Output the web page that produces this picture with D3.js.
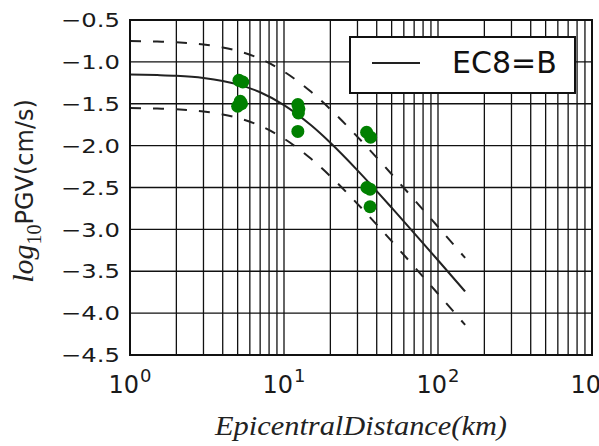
<!DOCTYPE html>
<html><head><meta charset="utf-8">
<script src="https://cdn.jsdelivr.net/npm/d3@7"></script>
<style>body{margin:0;background:#fff;overflow:hidden}</style></head>
<body>
<script>
// ---- data ----
const yTickValues = [-0.5, -1.0, -1.5, -2.0, -2.5, -3.0, -3.5, -4.0, -4.5];
const xTickExponents = [0, 1, 2, 3];
const curveDistance = [1, 1.5, 2, 3, 4, 5, 7, 10, 15, 20, 30, 40, 50, 70, 100, 150];
const curveMean  = [-1.150, -1.158, -1.167, -1.193, -1.228, -1.269, -1.363, -1.516, -1.758, -1.966, -2.295, -2.543, -2.741, -3.044, -3.369, -3.741];
const curveUpper = [-0.750, -0.758, -0.767, -0.793, -0.828, -0.869, -0.963, -1.116, -1.358, -1.566, -1.895, -2.143, -2.341, -2.644, -2.969, -3.341];
const curveLower = [-1.550, -1.558, -1.567, -1.593, -1.628, -1.669, -1.763, -1.916, -2.158, -2.366, -2.695, -2.943, -3.141, -3.444, -3.769, -4.141];
const obsDistance = [5.1, 5.4, 5.2, 5.0, 5.3, 12.3, 12.5, 12.4, 12.3, 34.4, 36.5, 34.5, 36.2, 36.2];
const obsPGV      = [-1.22, -1.24, -1.47, -1.53, -1.50, -1.51, -1.56, -1.61, -1.83, -1.84, -1.90, -2.50, -2.52, -2.73];
const legendLabel = "EC8=B";

const W = 599, H = 446;
const L = 130, R = 592, T = 20, B = 355;
const svg = d3.select("body").append("svg").attr("width", W).attr("height", H);
const x = d3.scaleLog().domain([1, 1000]).range([L, R]);
const y = d3.scaleLinear().domain([-4.5, -0.5]).range([B, T]);

// grid
const g = svg.append("g");
g.selectAll(".vg").data(x.ticks()).join("line")
  .attr("x1", d => x(d)).attr("x2", d => x(d)).attr("y1", T).attr("y2", B)
  .attr("stroke", "#111").attr("stroke-width", 1.3);
g.selectAll(".hg").data(yTickValues).join("line")
  .attr("x1", L).attr("x2", R).attr("y1", d => y(d)).attr("y2", d => y(d))
  .attr("stroke", "#111").attr("stroke-width", 1.3);

// curves
const pts = arr => curveDistance.map((d, i) => [x(d), y(arr[i])]);
const line = d3.line().curve(d3.curveMonotoneX);
svg.append("path").attr("d", line(pts(curveMean))).attr("fill", "none")
  .attr("stroke", "#222").attr("stroke-width", 2);
[curveUpper, curveLower].forEach(c => {
  svg.append("path").attr("d", line(pts(c))).attr("fill", "none")
    .attr("stroke", "#222").attr("stroke-width", 2).attr("stroke-dasharray", "11,12");
});

// observations
svg.selectAll(".pt").data(obsDistance).join("circle")
  .attr("cx", d => x(d)).attr("cy", (d, i) => y(obsPGV[i])).attr("r", 6.5)
  .attr("fill", "#008000");

// frame
svg.append("rect").attr("x", L).attr("y", T).attr("width", R - L).attr("height", B - T)
  .attr("fill", "none").attr("stroke", "#111").attr("stroke-width", 2);

// y tick labels
svg.selectAll(".yt").data(yTickValues).join("text")
  .attr("x", 120).attr("y", d => y(d)).attr("dy", "0.36em")
  .attr("text-anchor", "end")
  .attr("font-family", "DejaVu Sans").attr("font-size", 20).attr("fill", "#1a1a1a")
  .attr("textLength", 59).attr("lengthAdjust", "spacingAndGlyphs")
  .text(d => d3.format(".1f")(d).replace("-", "\u2212"));

// x tick labels
xTickExponents.forEach(e => {
  const t = svg.append("text").attr("x", x(Math.pow(10, e))).attr("y", 393)
    .attr("text-anchor", "middle").attr("font-family", "DejaVu Sans").attr("fill", "#1a1a1a");
  t.append("tspan").attr("font-size", 24).text("10");
  t.append("tspan").attr("font-size", 18).attr("dy", -11).attr("dx", 1).text(String(e));
});

// x label
svg.append("text").attr("x", (L + R) / 2).attr("y", 435).attr("text-anchor", "middle")
  .attr("font-family", "Liberation Serif").attr("font-style", "italic").attr("font-size", 27)
  .attr("fill", "#222").attr("textLength", 292).attr("lengthAdjust", "spacingAndGlyphs")
  .text("EpicentralDistance(km)");

// y label
const yl = svg.append("text").attr("transform", "translate(33,191) rotate(-90)")
  .attr("text-anchor", "middle").attr("fill", "#222");
yl.append("tspan").attr("font-family", "Liberation Serif").attr("font-style", "italic")
  .attr("font-size", 30).text("log");
yl.append("tspan").attr("font-family", "Liberation Serif").attr("font-size", 20)
  .attr("dy", 8).text("10");
yl.append("tspan").attr("font-family", "DejaVu Sans").attr("font-size", 24)
  .attr("dy", -8).text("PGV(cm/s)");

// legend
const lg = svg.append("g");
lg.append("rect").attr("x", 350).attr("y", 37).attr("width", 225).attr("height", 56)
  .attr("fill", "#fff").attr("stroke", "#111").attr("stroke-width", 2);
lg.append("line").attr("x1", 372).attr("x2", 420).attr("y1", 63).attr("y2", 63)
  .attr("stroke", "#222").attr("stroke-width", 2);
lg.append("text").attr("x", 452).attr("y", 73).attr("font-family", "DejaVu Sans")
  .attr("font-size", 30).attr("fill", "#111").text(legendLabel);
</script>
</body></html>
